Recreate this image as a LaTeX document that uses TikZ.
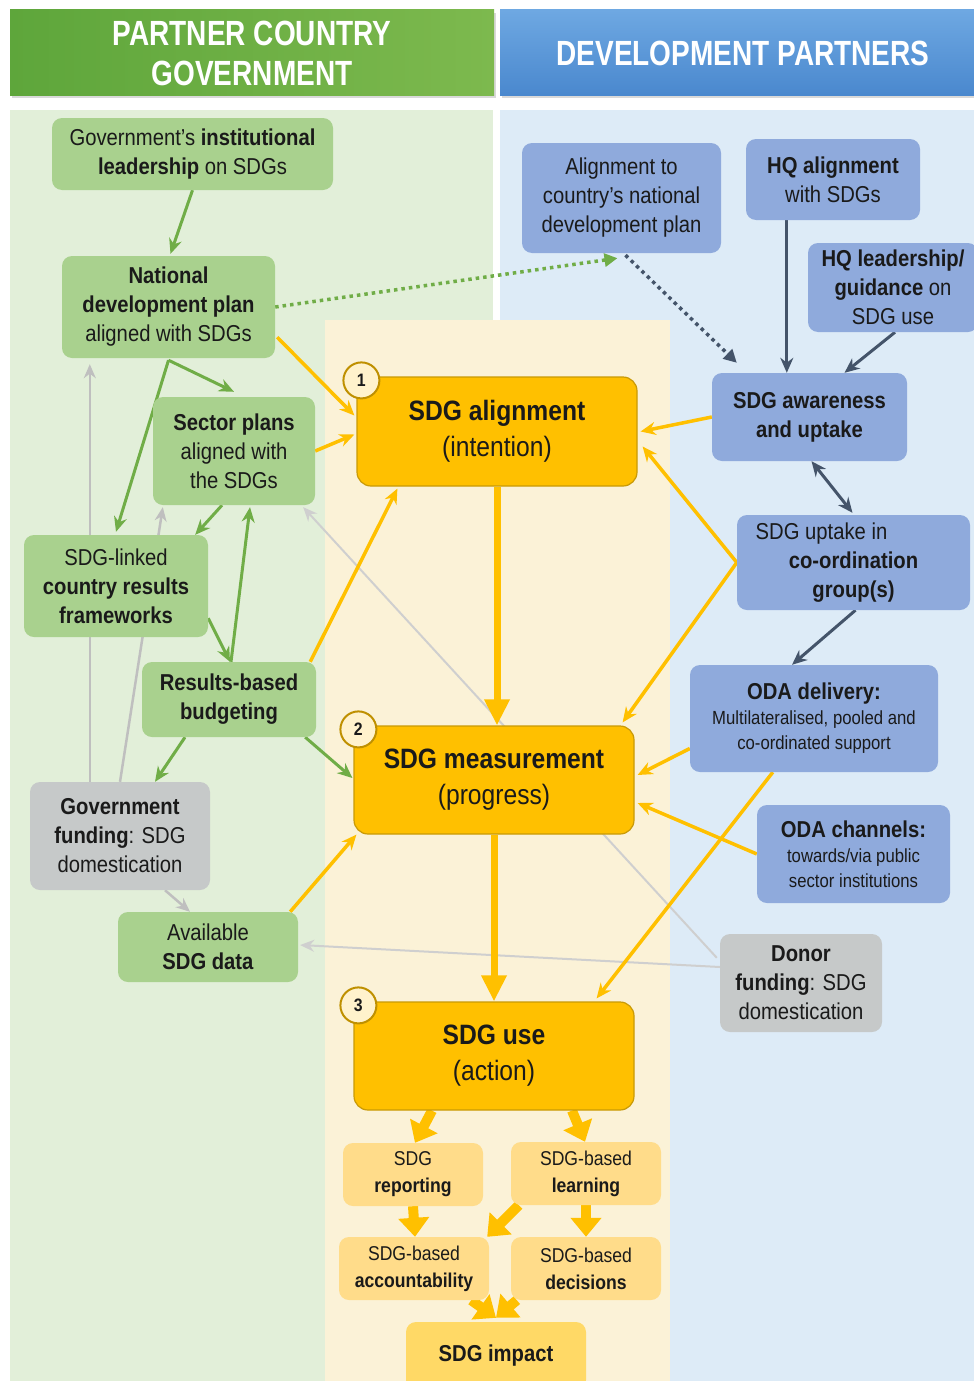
\documentclass[tikz,border=0pt]{standalone}
\usepackage{fontspec}
\setmainfont{Liberation Sans}[FakeStretch=0.88]
\newfontfamily\hdrfont{Liberation Sans}[FakeStretch=0.8]
\usetikzlibrary{arrows.meta,calc}

\definecolor{gpanel}{HTML}{E2EFD9}
\definecolor{bpanel}{HTML}{DDEBF7}
\definecolor{ypanel}{HTML}{FBF2D7}
\definecolor{gfill}{HTML}{A9D18E}
\definecolor{bfill}{HTML}{8FAADC}
\definecolor{grfill}{HTML}{C6C9C9}
\definecolor{cfill}{HTML}{FFC000}
\definecolor{cedge}{HTML}{C99A06}
\definecolor{lfill}{HTML}{FFDC8A}
\definecolor{ifill}{HTML}{FFD966}
\definecolor{bdg}{HTML}{FFF2CC}
\definecolor{bdgedge}{HTML}{BF9000}
\definecolor{gline}{HTML}{70AD47}
\definecolor{dline}{HTML}{44546A}
\definecolor{yline}{HTML}{FFC000}
\definecolor{grline}{HTML}{BFBFBF}
\definecolor{grfaint}{HTML}{CFCFCF}
\definecolor{txt}{HTML}{1A1A1A}
\definecolor{hgA}{HTML}{5EA63B}
\definecolor{hgB}{HTML}{7DB94E}
\definecolor{hbA}{HTML}{6EA8E2}
\definecolor{hbB}{HTML}{4A88CE}

\pgfdeclarelayer{bg}
\pgfdeclarelayer{edges}
\pgfsetlayers{bg,edges,main}

\begin{document}
\begin{tikzpicture}[x=1pt,y=-1pt,
  box/.style={rounded corners=10pt, align=center, inner sep=0pt, text=txt,
    font=\fontsize{23}{29}\selectfont},
  gnode/.style={box, fill=gfill},
  bnode/.style={box, fill=bfill},
  grnode/.style={box, fill=grfill},
  smalltext/.style={font=\fontsize{19}{25}\selectfont},
  cbox/.style={box, fill=cfill, draw=cedge, line width=1.2pt, rounded corners=14pt,
    minimum width=280pt, minimum height=108pt, font=\fontsize{28}{36}\selectfont},
  lbox/.style={box, fill=lfill, minimum width=150pt, minimum height=63pt,
    font=\fontsize{20}{27}\selectfont},
  badge/.style={circle, fill=bdg, draw=bdgedge, line width=2pt, minimum size=36pt,
    inner sep=0pt, font=\bfseries\fontsize{18}{20}\selectfont, text=txt},
  hdr/.style={align=center, text=white, inner sep=0pt,
    font=\hdrfont\bfseries\fontsize{35}{40}\selectfont},
  garrow/.style={draw=gline, line width=3pt, -{Stealth[length=15pt,width=13pt]}},
  gdot/.style={draw=gline, line width=3.5pt, dash pattern=on 3.5pt off 4pt,
    -{Triangle[length=13pt,width=13pt]}},
  darrow/.style={draw=dline, line width=3pt, -{Stealth[length=15pt,width=13pt]}},
  darrowboth/.style={draw=dline, line width=3pt,
    {Stealth[length=15pt,width=13pt]}-{Stealth[length=15pt,width=13pt]}},
  ddot/.style={draw=dline, line width=3.5pt, dash pattern=on 3.5pt off 4pt,
    -{Triangle[length=13pt,width=13pt]}},
  grayarrow/.style={draw=grline, line width=2.5pt, -{Stealth[length=14pt,width=12pt]}},
  grayfaint/.style={draw=grfaint, line width=2pt, -{Stealth[length=14pt,width=12pt]}},
  yarrow/.style={draw=yline, line width=3.5pt, -{Stealth[length=15pt,width=13pt]}},
  ythick/.style={draw=yline, line width=7pt, -{Triangle[length=26pt,width=24pt]}},
  yfat/.style={draw=yline, line width=10pt, -{Triangle[length=19pt,width=30pt]}}
]
\useasboundingbox (0,0) rectangle (974,1381);

% ---------- panels and headers ----------
\begin{pgfonlayer}{bg}
  \fill[white] (0,0) rectangle (974,1381);
  \fill[gpanel] (10,110) rectangle (493,1390);
  \fill[bpanel] (500,110) rectangle (980,1390);
  \fill[ypanel] (325,320) rectangle (670,1390);
  \fill[black!15] (12,13) rectangle (496,98);
  \fill[black!15] (502,13) rectangle (980,98);
  \shade[left color=hgA, right color=hgB] (10,10) rectangle (494,95);
  \shade[top color=hbA, bottom color=hbB] (500,10) rectangle (980,95);
\end{pgfonlayer}

\node[hdr] (hgov) at (252,53) {PARTNER COUNTRY\\GOVERNMENT};
\node[hdr] (hdev) at (743,53) {DEVELOPMENT PARTNERS};

% ---------- partner country government ----------
\node[gnode, minimum width=281pt, minimum height=72pt] (lead) at (192.5,154)
  {Government’s \textbf{institutional}\\\textbf{leadership} on SDGs};
\node[gnode, minimum width=213pt, minimum height=102pt] (ndp) at (168.5,307)
  {\textbf{National}\\\textbf{development plan}\\aligned with SDGs};
\node[gnode, minimum width=162pt, minimum height=108pt] (sector) at (234,451)
  {\textbf{Sector plans}\\aligned with\\the SDGs};
\node[gnode, minimum width=184pt, minimum height=102pt] (srf) at (116,586)
  {SDG-linked\\\textbf{country results}\\\textbf{frameworks}};
\node[gnode, minimum width=174pt, minimum height=75pt] (rbb) at (229,699.5)
  {\textbf{Results-based}\\\textbf{budgeting}};
\node[grnode, minimum width=180pt, minimum height=108pt] (gov) at (120,836)
  {\textbf{Government}\\\textbf{funding}: SDG\\domestication};
\node[gnode, minimum width=180pt, minimum height=70pt] (data) at (208,947)
  {Available\\\textbf{SDG data}};

% ---------- development partners ----------
\node[bnode, minimum width=199pt, minimum height=110pt] (align) at (621.5,198)
  {Alignment to\\country’s national\\development plan};
\node[bnode, minimum width=174pt, minimum height=81pt] (hqa) at (833,179.5)
  {\textbf{HQ alignment}\\with SDGs};
\node[bnode, minimum width=170pt, minimum height=89pt] (hql) at (893,287.5)
  {\textbf{HQ leadership/}\\\textbf{guidance} on\\SDG use};
\node[bnode, minimum width=195pt, minimum height=88pt] (aware) at (809.5,417)
  {\textbf{SDG awareness}\\\textbf{and uptake}};
\node[bnode, minimum width=233pt, minimum height=95pt] (coord) at (853.5,562.5)
  {SDG uptake in\hspace{64pt}\mbox{}\\\textbf{co-ordination}\\\textbf{group(s)}};
\node[bnode, smalltext, minimum width=248pt, minimum height=107pt] (oda) at (814,718.5)
  {{\fontsize{23}{28}\selectfont\textbf{ODA delivery:}}\\
   Multilateralised, pooled and\\co-ordinated support};
\node[bnode, smalltext, minimum width=193pt, minimum height=98pt] (odc) at (853.5,854)
  {{\fontsize{23}{28}\selectfont\textbf{ODA channels:}}\\
   towards/via public\\sector institutions};
\node[grnode, minimum width=162pt, minimum height=98pt] (donor) at (801,983)
  {\textbf{Donor}\\\textbf{funding}: SDG\\domestication};

% ---------- SDG stages ----------
\node[cbox, minimum height=109pt] (sa) at (497,431.5) {\textbf{SDG alignment}\\(intention)};
\node[cbox] (meas) at (494,780) {\textbf{SDG measurement}\\(progress)};
\node[cbox] (use) at (494,1056) {\textbf{SDG use}\\(action)};
\node[badge] (b1) at ($(sa.north west)+(5,4)$) {1};
\node[badge] (b2) at ($(meas.north west)+(5,4)$) {2};
\node[badge] (b3) at ($(use.north west)+(5,4)$) {3};

\node[lbox, minimum width=140pt] (rep) at (413,1174.5) {SDG\\\textbf{reporting}};
\node[lbox] (learn) at (586,1173.5) {SDG-based\\\textbf{learning}};
\node[lbox] (acc) at (414,1268.5) {SDG-based\\\textbf{accountability}};
\node[lbox] (dec) at (586,1268.5) {SDG-based\\\textbf{decisions}};
\node[box, fill=ifill, minimum width=180pt, minimum height=68pt,
  font=\fontsize{23}{29}\selectfont] (imp) at (496,1356) {\textbf{SDG impact}};

% ---------- connectors ----------
\begin{pgfonlayer}{edges}
  % faint funding links
  \draw[grayfaint] ($(donor.west)+(0,-16)$) -- ($(data.east)+(2,-2)$);
  \draw[grayfaint] ($(donor.north west)+(-3,24)$) -- ($(sector.south east)+(-12,2)$);
  \draw[grayarrow] ($(gov.north west)+(60,0)$) -- ($(ndp.south west)+(28,6)$);
  \draw[grayarrow] (gov.north) -- ($(sector.south west)+(10,2)$);
  \draw[grayarrow] ($(gov.south)+(45,0)$) -- ($(data.north)+(-18,0)$);

  % government chain
  \draw[garrow] (lead.south) -- ($(ndp.north)+(2,-2)$);
  \draw[garrow] ($(ndp.south)+(0,2)$) -- ($(sector.north)+(0,-5)$);
  \draw[garrow] ($(ndp.south)+(0,2)$) -- ($(srf.north)+(0,-3)$);
  \draw[garrow] ($(sector.south)+(-12,0)$) -- ($(srf.north east)+(-13,0)$);
  \draw[garrow] ($(srf.south east)+(0,-19)$) -- ($(rbb.north)+(1,0)$);
  \draw[garrow] ($(rbb.north)+(2,0)$) -- ($(sector.south)+(16,2)$);
  \draw[garrow] ($(rbb.south)+(-44,0)$) -- ($(gov.north)+(35,0)$);
  \draw[garrow] ($(rbb.south east)+(-11,0)$) -- ($(meas.west)+(-1,-2)$);
  \draw[gdot] (ndp.east) -- ($(align.south)+(-4,5)$);

  % partner chain
  \draw[ddot] ($(align.south)+(4,2)$) -- ($(aware.north west)+(25,-10)$);
  \draw[darrow] ($(hqa.south west)+(41,0)$) -- ($(aware.north west)+(75,0)$);
  \draw[darrow] ($(hql.south)+(2,0)$) -- ($(aware.north)+(35,0)$);
  \draw[darrowboth] ($(aware.south)+(2,0)$) -- ($(coord.north)+(-1,-2)$);
  \draw[darrow] ($(coord.south)+(2,0)$) -- ($(oda.north)+(-22,0)$);

  % contributions to the SDG stages
  \draw[yarrow] ($(ndp.south east)+(2,-21)$) -- ($(sa.west)+(-2,-16)$);
  \draw[yarrow] (sector.east) -- ($(sa.west)+(-2,3)$);
  \draw[yarrow] ($(rbb.north east)+(-6,0)$) -- ($(sa.south west)+(41,2)$);
  \draw[yarrow] (aware.west) -- ($(sa.east)+(3,0)$);
  \draw[yarrow] (coord.west) -- ($(sa.east)+(5,15)$);
  \draw[yarrow] (coord.west) -- ($(meas.north east)+(-12,-3)$);
  \draw[yarrow] ($(oda.west)+(0,30)$) -- ($(meas.east)+(3,-5)$);
  \draw[yarrow] (odc.west) -- ($(meas.east)+(3,23)$);
  \draw[yarrow] ($(oda.south west)+(83,0)$) -- ($(use.north east)+(-38,-3)$);
  \draw[yarrow] ($(data.north east)+(-8,0)$) -- ($(meas.south west)+(3,0)$);
  \draw[ythick] (sa.south) -- (sa.south |- meas.north);
  \draw[ythick] (meas.south) -- (meas.south |- use.north);

  % uses and impact
  \draw[yfat] ($(use.south)+(-62,0)$) -- ($(rep.north)+(2,0)$);
  \draw[yfat] ($(use.south)+(78,0)$) -- ($(learn.north)+(-1,0)$);
  \draw[yfat] (rep.south) -- ($(acc.north)+(1,0)$);
  \draw[yfat] ($(learn.south west)+(8,0)$) -- ($(acc.north east)+(-2,0)$);
  \draw[yfat] (learn.south) -- (dec.north);
  \draw[yfat] ($(acc.south east)+(-18,0)$) -- ($(imp.north)+(0,-4)$);
  \draw[yfat] ($(dec.south west)+(6,0)$) -- ($(imp.north)+(0,-4)$);
\end{pgfonlayer}
\end{tikzpicture}
\end{document}
